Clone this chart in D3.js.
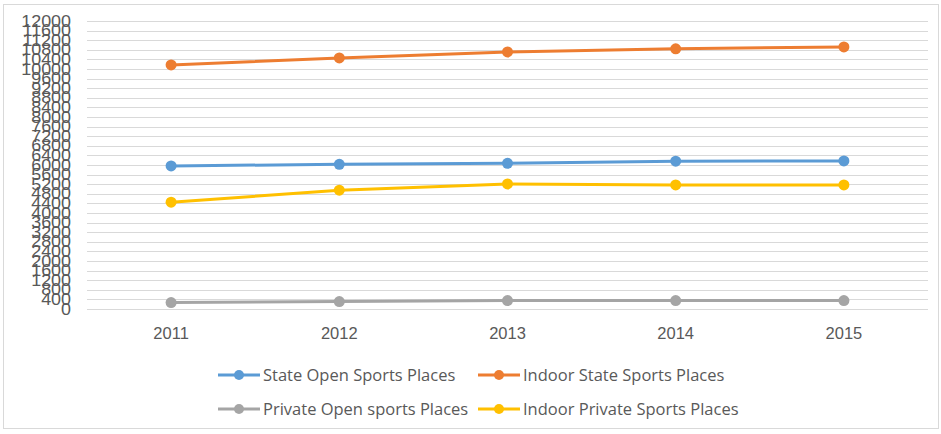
<!DOCTYPE html>
<html>
<head>
<meta charset="utf-8">
<script src="https://cdn.jsdelivr.net/npm/d3@7"></script>
<style>
  body { margin: 0; background: #fff; }
  svg { font-family: "Open Sans", "Liberation Sans", sans-serif; }
</style>
</head>
<body>
<div id="chart"></div>
<script>
const years = ["2011", "2012", "2013", "2014", "2015"];
const seriesNames = [
  "State Open Sports Places",
  "Indoor State Sports Places",
  "Private Open sports Places",
  "Indoor Private Sports Places"
];
const stateOpen = [5960, 6030, 6070, 6160, 6170];
const indoorState = [10170, 10460, 10710, 10840, 10920];
const privateOpen = [270, 310, 350, 350, 350];
const indoorPrivate = [4450, 4950, 5210, 5170, 5170];
const colors = ["#5B9BD5", "#ED7D31", "#A5A5A5", "#FFC000"];
const yTicks = d3.range(0, 12001, 400);

const series = [stateOpen, indoorState, privateOpen, indoorPrivate].map((values, i) => ({
  name: seriesNames[i], color: colors[i], values
}));

const width = 941, height = 434;
const svg = d3.select("#chart").append("svg")
  .attr("width", width)
  .attr("height", height);

svg.append("rect")
  .attr("x", 3.5).attr("y", 4.5)
  .attr("width", 935).attr("height", 424)
  .attr("fill", "#fff")
  .attr("stroke", "#D9D9D9");

const x = d3.scaleBand().domain(years).range([87, 928]);
const y = d3.scaleLinear().domain([0, 12000]).range([309, 21]);

// gridlines
svg.append("g")
  .selectAll("line")
  .data(yTicks)
  .join("line")
  .attr("x1", 87).attr("x2", 928)
  .attr("y1", d => Math.round(y(d)) + 0.5)
  .attr("y2", d => Math.round(y(d)) + 0.5)
  .attr("stroke", "#D9D9D9");

// y axis labels (dense, they overlap like the original)
const yAxis = svg.append("g")
  .attr("transform", "translate(71,0)")
  .call(d3.axisLeft(y).tickValues(yTicks).tickFormat(d3.format("d")).tickSize(0).tickPadding(0));
yAxis.select(".domain").remove();
yAxis.selectAll("text")
  .attr("fill", "#595959")
  .style("font-size", "16px")
  .style("font-family", "'Liberation Sans Narrow', 'Liberation Sans', sans-serif")
  .attr("transform", "scale(1.12,1)")
  .attr("x", 0);

// x axis labels
const xAxis = svg.append("g")
  .attr("transform", "translate(0,319)")
  .call(d3.axisBottom(x).tickSize(0).tickPadding(8));
xAxis.select(".domain").remove();
xAxis.selectAll("text")
  .attr("fill", "#595959")
  .style("font-size", "16.5px");

const line = d3.line()
  .x((d, i) => x(years[i]) + x.bandwidth() / 2)
  .y(d => y(d));

const sg = svg.append("g")
  .selectAll("g")
  .data(series)
  .join("g");

sg.append("path")
  .attr("fill", "none")
  .attr("stroke", d => d.color)
  .attr("stroke-width", 3)
  .attr("stroke-linejoin", "round")
  .attr("d", d => line(d.values));

sg.selectAll("circle")
  .data(d => d.values.map(v => ({ v, color: d.color })))
  .join("circle")
  .attr("cx", (d, i) => x(years[i]) + x.bandwidth() / 2)
  .attr("cy", d => y(d.v))
  .attr("r", 5.5)
  .attr("fill", d => d.color);

// legend
const legendPos = [[218, 375], [478, 375], [218, 409], [478, 409]];
const lg = svg.append("g")
  .selectAll("g")
  .data(series)
  .join("g")
  .attr("transform", (d, i) => `translate(${legendPos[i][0]},${legendPos[i][1]})`);

lg.append("line")
  .attr("x1", 0).attr("x2", 42)
  .attr("stroke", d => d.color)
  .attr("stroke-width", 3);
lg.append("circle")
  .attr("cx", 21).attr("r", 5)
  .attr("fill", d => d.color);
lg.append("text")
  .attr("x", 45)
  .attr("dy", "0.35em")
  .attr("fill", "#595959")
  .style("font-size", "16.5px")
  .text(d => d.name);
</script>
</body>
</html>
